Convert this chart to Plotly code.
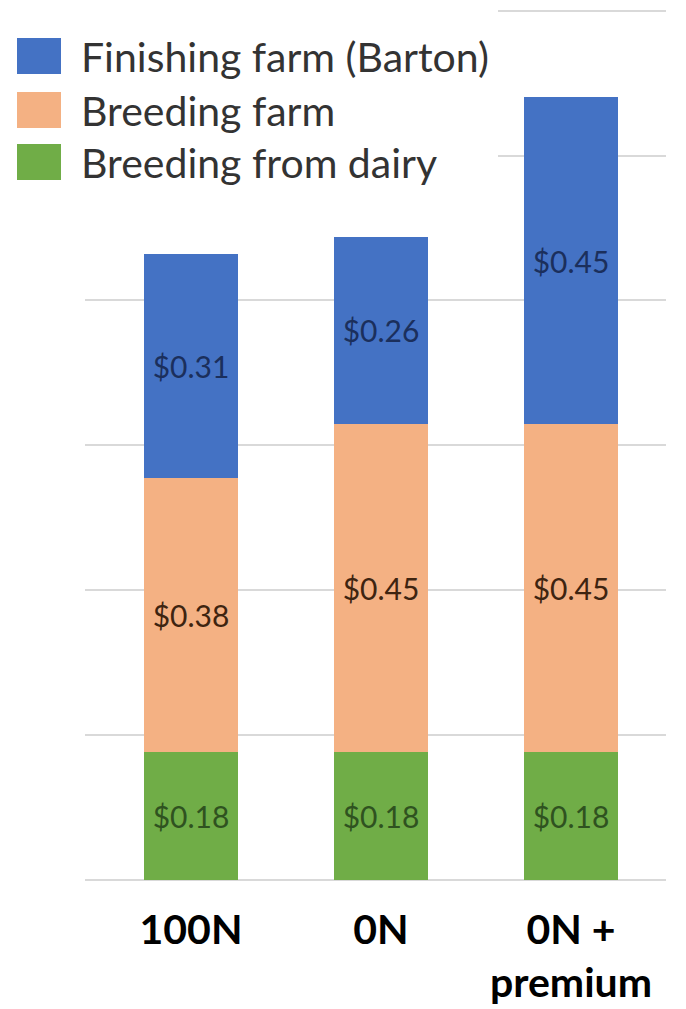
import plotly.graph_objects as go

# ---- data (labels show values rounded to cents) ----
categories = ["100N", "0N", "0N +<br>premium"]
series_names = ["Breeding from dairy", "Breeding farm", "Finishing farm (Barton)"]
dairy_vals = [0.177, 0.177, 0.177]
breeding_vals = [0.378, 0.452, 0.452]
finishing_vals = [0.309, 0.259, 0.452]

# ---- styles ----
bar_colors = ["#70AD47", "#F4B183", "#4472C4"]
label_colors = ["#2F5220", "#3E2410", "#1B2F5C"]
series_vals = [dairy_vals, breeding_vals, finishing_vals]

W, H = 686, 1009
L, R, T, B = 85, 20, 7, 129
PW, PH = W - L - R, H - T - B

def px_x(px):
    return (px - L) / PW

def px_y(py):
    return (H - B - py) / PH

fig = go.Figure()
for name, vals, col, lcol in zip(series_names, series_vals, bar_colors, label_colors):
    fig.add_trace(go.Bar(
        x=[0, 1, 2], y=vals, name=name,
        marker=dict(color=col, line=dict(width=0)),
        width=0.49,
        texttemplate="$%{y:.2f}",
        textposition="inside",
        insidetextanchor="middle",
        textangle=0,
        textfont=dict(family="Lato", size=30, color=lcol),
        showlegend=False,
        hoverinfo="skip",
    ))

shapes = []
annotations = []
# white box behind legend (covers gridlines as in reference)
shapes.append(dict(type="rect", xref="paper", yref="paper",
                   x0=px_x(0), x1=px_x(498), y0=px_y(197), y1=px_y(0),
                   fillcolor="white", line=dict(width=0), layer="above"))
# legend entries (top to bottom: finishing, breeding, dairy)
leg_rows = [(38, 74), (92, 128), (144, 180)]
for (y0, y1), idx in zip(leg_rows, [2, 1, 0]):
    shapes.append(dict(type="rect", xref="paper", yref="paper",
                       x0=px_x(17), x1=px_x(61), y0=px_y(y1), y1=px_y(y0),
                       fillcolor=bar_colors[idx], line=dict(width=0), layer="above"))
    annotations.append(dict(xref="paper", yref="paper", x=px_x(79), y=px_y((y0 + y1) / 2),
                            text=series_names[idx], showarrow=False,
                            xanchor="left", yanchor="middle",
                            font=dict(family="Lato", size=41, color="#333333")))

fig.update_layout(
    width=W, height=H,
    margin=dict(l=L, r=R, t=T, b=B, autoexpand=False),
    barmode="stack",
    plot_bgcolor="white", paper_bgcolor="white",
    shapes=shapes, annotations=annotations,
    xaxis=dict(
        range=[-0.558, 2.5],
        tickmode="array", tickvals=[0, 1, 2], ticktext=categories,
        tickfont=dict(family="Lato", size=41, color="#000000", weight="bold"),
        showgrid=False, zeroline=False, showline=False, ticks="",
        ticklabelstandoff=22, automargin=False,
    ),
    yaxis=dict(
        range=[0, 1.205], dtick=0.2, tick0=0,
        showticklabels=False, ticks="",
        showgrid=True, gridcolor="#D9D9D9", gridwidth=1.5,
        zeroline=True, zerolinecolor="#D9D9D9", zerolinewidth=1.5,
        showline=False, automargin=False,
    ),
)

fig.write_html("out.html")
